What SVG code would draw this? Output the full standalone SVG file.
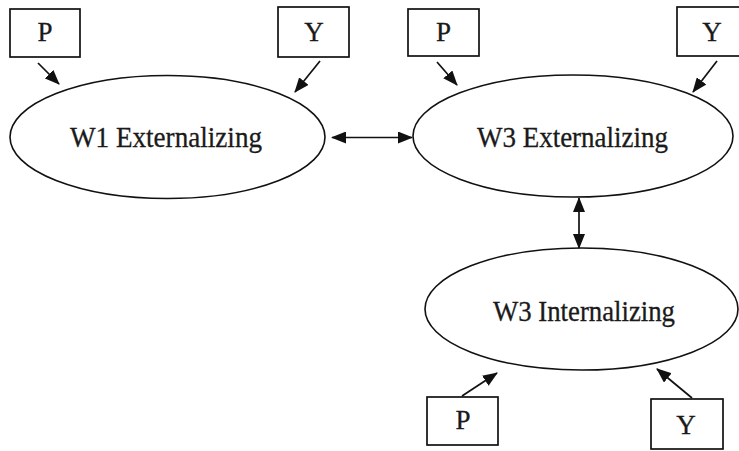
<svg xmlns="http://www.w3.org/2000/svg" width="739" height="451" viewBox="0 0 739 451">
<style>
.box{fill:#fff;stroke:#111;stroke-width:1.7}
.ell{fill:#fff;stroke:#111;stroke-width:1.6}
.lbl{font-family:"Liberation Serif","Times New Roman",serif;font-size:29px;fill:#1a1a1a;stroke:#1a1a1a;stroke-width:0.3;text-anchor:middle}
.ind{font-family:"Liberation Serif","Times New Roman",serif;font-size:27px;fill:#1a1a1a;stroke:#1a1a1a;stroke-width:0.3;text-anchor:middle}
.con{stroke:#111;stroke-width:1.7;fill:none}
</style>
<defs>
<marker id="ah" markerUnits="userSpaceOnUse" markerWidth="15" markerHeight="12" refX="14" refY="6" orient="auto-start-reverse" viewBox="0 0 15 12">
<path d="M0,0 L15,6 L0,12 Z" fill="#111"/>
</marker>
</defs>
<rect width="739" height="451" fill="#fff"/>
<g id="w1ext"><ellipse class="ell" cx="167.5" cy="137" rx="157.5" ry="61.5"/><text class="lbl" x="166" y="147" textLength="192" lengthAdjust="spacingAndGlyphs">W1 Externalizing</text></g>
<g id="w3ext"><ellipse class="ell" cx="573" cy="136" rx="160" ry="61"/><text class="lbl" x="572.5" y="147" textLength="191" lengthAdjust="spacingAndGlyphs">W3 Externalizing</text></g>
<g id="w3int"><ellipse class="ell" cx="581.5" cy="309" rx="156.5" ry="61"/><text class="lbl" x="584" y="321" textLength="182" lengthAdjust="spacingAndGlyphs">W3 Internalizing</text></g>
<g id="p1"><rect class="box" x="10" y="9" width="70" height="48"/><text class="ind" x="45" y="41">P</text></g>
<g id="y1"><rect class="box" x="278" y="7" width="71" height="50"/><text class="ind" x="314" y="41">Y</text></g>
<g id="p2"><rect class="box" x="408" y="9" width="71" height="47"/><text class="ind" x="443.5" y="41">P</text></g>
<g id="y2"><rect class="box" x="677" y="7" width="71" height="49"/><text class="ind" x="712" y="41">Y</text></g>
<g id="p3"><rect class="box" x="427" y="397" width="71" height="48"/><text class="ind" x="463" y="429">P</text></g>
<g id="y3"><rect class="box" x="651" y="399" width="72" height="50"/><text class="ind" x="686" y="434">Y</text></g>
<g id="connectors">
<line class="con" x1="38" y1="63" x2="59" y2="84" marker-end="url(#ah)"/>
<line class="con" x1="320" y1="61" x2="295" y2="92" marker-end="url(#ah)"/>
<line class="con" x1="437" y1="62" x2="457" y2="85" marker-end="url(#ah)"/>
<line class="con" x1="717" y1="61" x2="693" y2="92" marker-end="url(#ah)"/>
<line class="con" x1="332" y1="137.5" x2="412" y2="137.5" marker-start="url(#ah)" marker-end="url(#ah)"/>
<line class="con" x1="579" y1="198" x2="579" y2="248" marker-start="url(#ah)" marker-end="url(#ah)"/>
<line class="con" x1="462" y1="396" x2="497" y2="373" marker-end="url(#ah)"/>
<line class="con" x1="692" y1="398" x2="657" y2="369" marker-end="url(#ah)"/>
</g>
</svg>
